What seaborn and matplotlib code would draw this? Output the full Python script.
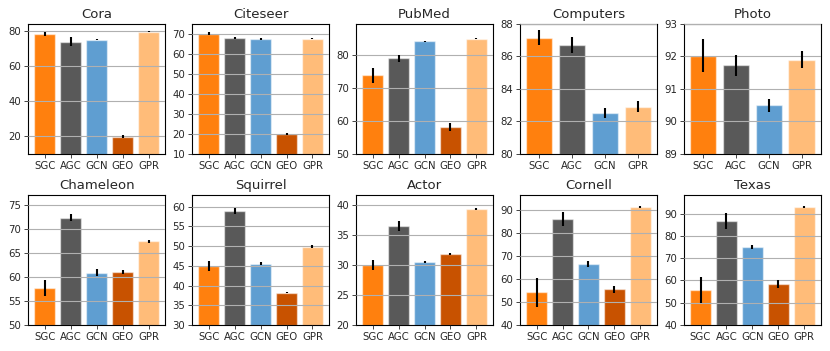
import matplotlib
matplotlib.use("Agg")
import matplotlib.pyplot as plt
from matplotlib.ticker import MultipleLocator
import pandas as pd
import seaborn as sns

datasets = ["Cora", "Citeseer", "PubMed", "Computers", "Photo",
            "Chameleon", "Squirrel", "Actor", "Cornell", "Texas"]

methods = {
    "Cora": ["SGC", "AGC", "GCN", "GEO", "GPR"],
    "Citeseer": ["SGC", "AGC", "GCN", "GEO", "GPR"],
    "PubMed": ["SGC", "AGC", "GCN", "GEO", "GPR"],
    "Computers": ["SGC", "AGC", "GCN", "GPR"],
    "Photo": ["SGC", "AGC", "GCN", "GPR"],
    "Chameleon": ["SGC", "AGC", "GCN", "GEO", "GPR"],
    "Squirrel": ["SGC", "AGC", "GCN", "GEO", "GPR"],
    "Actor": ["SGC", "AGC", "GCN", "GEO", "GPR"],
    "Cornell": ["SGC", "AGC", "GCN", "GEO", "GPR"],
    "Texas": ["SGC", "AGC", "GCN", "GEO", "GPR"],
}

means = {
    "Cora": [78.2, 73.9, 75.1, 19.9, 79.6],
    "Citeseer": [70.1, 67.9, 67.4, 20.0, 67.6],
    "PubMed": [73.8, 79.0, 84.1, 58.1, 84.9],
    "Computers": [87.15, 86.7, 82.5, 82.9],
    "Photo": [92.02, 91.73, 90.5, 91.9],
    "Chameleon": [57.7, 72.3, 60.9, 61.0, 67.4],
    "Squirrel": [45.0, 59.0, 45.6, 38.2, 49.9],
    "Actor": [30.0, 36.4, 30.5, 31.8, 39.3],
    "Cornell": [54.2, 86.2, 66.6, 55.5, 91.3],
    "Texas": [55.7, 86.7, 75.1, 58.5, 93.0],
}

stds = {
    "Cora": [1.3, 2.4, 0.3, 0.9, 0.2],
    "Citeseer": [0.8, 0.5, 0.3, 0.6, 0.3],
    "PubMed": [2.2, 1.0, 0.1, 1.2, 0.2],
    "Computers": [0.45, 0.5, 0.3, 0.35],
    "Photo": [0.5, 0.32, 0.2, 0.27],
    "Chameleon": [1.7, 0.8, 0.7, 0.5, 0.3],
    "Squirrel": [1.3, 0.8, 0.3, 0.2, 0.4],
    "Actor": [0.8, 0.8, 0.2, 0.2, 0.2],
    "Cornell": [6.3, 3.0, 1.3, 1.5, 0.5],
    "Texas": [5.7, 3.5, 0.8, 1.7, 0.4],
}

ylims = {
    "Cora": (10, 84), "Citeseer": (10, 75), "PubMed": (50, 89.4),
    "Computers": (80, 88), "Photo": (89, 93), "Chameleon": (50, 77),
    "Squirrel": (30, 63), "Actor": (20, 41.6), "Cornell": (40, 96.7),
    "Texas": (40, 98.4),
}

ytick_step = {"Cora": 20, "Citeseer": 10, "PubMed": 10, "Computers": 2,
              "Photo": 1, "Chameleon": 5, "Squirrel": 5, "Actor": 5,
              "Cornell": 10, "Texas": 10}

colors = {"SGC": "#FF800E", "AGC": "#595959", "GCN": "#5F9ED1",
          "GEO": "#C85200", "GPR": "#FFBC79"}

sns.set_style("ticks")
plt.rcParams["font.family"] = ["DejaVu Sans"]

fig, axes = plt.subplots(2, 5, figsize=(8.3, 3.51), dpi=100)
fig.subplots_adjust(left=0.034, right=0.989, bottom=0.074, top=0.932,
                    wspace=0.197, hspace=0.315)

for ax, name in zip(axes.flat, datasets):
    df = pd.DataFrame({"method": methods[name], "acc": means[name], "std": stds[name]})
    sns.barplot(data=df, x="method", y="acc", hue="method", palette=colors,
                saturation=1, errorbar=None, width=0.8, legend=False, ax=ax,
                edgecolor=(1, 1, 1, 0.5), linewidth=1)
    ax.errorbar(range(len(df)), df["acc"], yerr=df["std"], fmt="none",
                ecolor="black", elinewidth=1.5, capsize=0, zorder=5)
    ax.set_ylim(*ylims[name])
    ax.yaxis.set_major_locator(MultipleLocator(ytick_step[name]))
    ax.set_title(name, fontsize=9.5, pad=4)
    ax.set_xlabel("")
    ax.set_ylabel("")
    ax.yaxis.grid(True, color="#b0b0b0", linewidth=0.8)
    ax.set_axisbelow(False)
    ax.tick_params(labelsize=7.3, length=3, width=0.6, pad=2)
    for s in ax.spines.values():
        s.set_visible(True)
        s.set_color("black")
        s.set_linewidth(0.8)

fig.savefig("out.png", dpi=100)
